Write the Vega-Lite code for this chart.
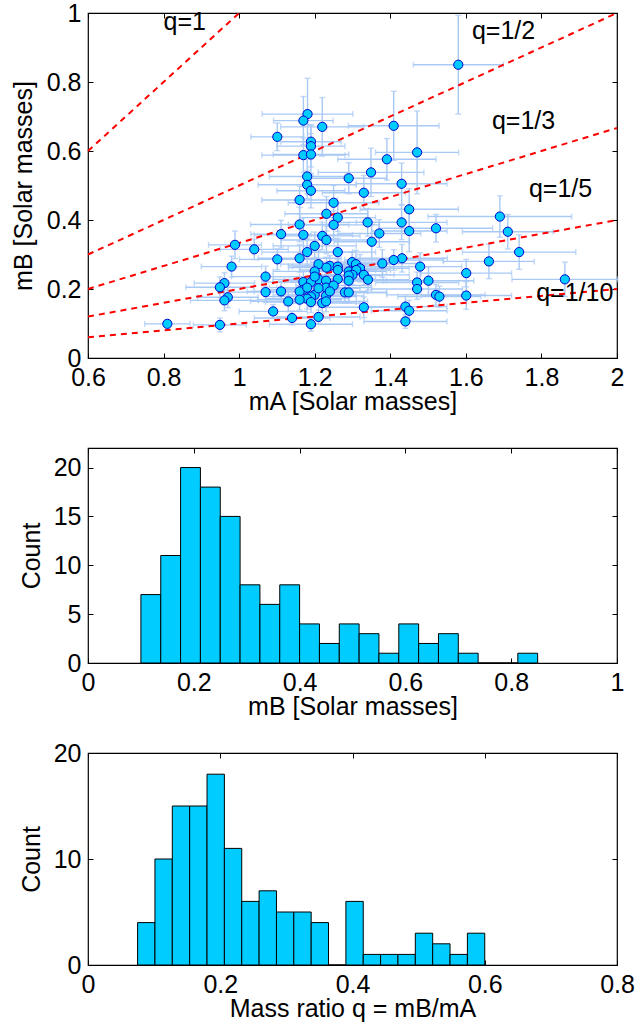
{
  "$schema": "https://vega.github.io/schema/vega-lite/v6.json",
  "background": "white",
  "padding": {"left": 10, "top": 0, "right": 5, "bottom": 5},
  "datasets": {
    "stars": [
      {"mA":1.580,"mB":0.850,"dA":0.119,"dB":0.143},
      {"mA":1.181,"mB":0.707,"dA":0.120,"dB":0.104},
      {"mA":1.170,"mB":0.688,"dA":0.079,"dB":0.070},
      {"mA":1.220,"mB":0.670,"dA":0.110,"dB":0.085},
      {"mA":1.101,"mB":0.641,"dA":0.070,"dB":0.040},
      {"mA":1.190,"mB":0.627,"dA":0.080,"dB":0.050},
      {"mA":1.190,"mB":0.614,"dA":0.090,"dB":0.060},
      {"mA":1.170,"mB":0.588,"dA":0.110,"dB":0.050},
      {"mA":1.190,"mB":0.590,"dA":0.100,"dB":0.060},
      {"mA":1.409,"mB":0.673,"dA":0.120,"dB":0.100},
      {"mA":1.471,"mB":0.596,"dA":0.110,"dB":0.120},
      {"mA":1.391,"mB":0.576,"dA":0.130,"dB":0.060},
      {"mA":1.349,"mB":0.538,"dA":0.140,"dB":0.070},
      {"mA":1.290,"mB":0.521,"dA":0.100,"dB":0.045},
      {"mA":1.180,"mB":0.526,"dA":0.100,"dB":0.050},
      {"mA":1.180,"mB":0.502,"dA":0.130,"dB":0.040},
      {"mA":1.430,"mB":0.505,"dA":0.120,"dB":0.060},
      {"mA":1.190,"mB":0.485,"dA":0.090,"dB":0.050},
      {"mA":1.330,"mB":0.479,"dA":0.110,"dB":0.050},
      {"mA":1.160,"mB":0.458,"dA":0.100,"dB":0.040},
      {"mA":1.250,"mB":0.450,"dA":0.120,"dB":0.050},
      {"mA":1.450,"mB":0.431,"dA":0.130,"dB":0.060},
      {"mA":1.231,"mB":0.418,"dA":0.110,"dB":0.050},
      {"mA":1.261,"mB":0.407,"dA":0.100,"dB":0.040},
      {"mA":1.250,"mB":0.386,"dA":0.120,"dB":0.040},
      {"mA":1.160,"mB":0.387,"dA":0.130,"dB":0.050},
      {"mA":1.340,"mB":0.393,"dA":0.100,"dB":0.040},
      {"mA":1.430,"mB":0.393,"dA":0.120,"dB":0.050},
      {"mA":1.450,"mB":0.368,"dA":0.100,"dB":0.060},
      {"mA":1.521,"mB":0.376,"dA":0.150,"dB":0.040},
      {"mA":1.690,"mB":0.410,"dA":0.190,"dB":0.060},
      {"mA":1.711,"mB":0.366,"dA":0.120,"dB":0.050},
      {"mA":1.371,"mB":0.361,"dA":0.110,"dB":0.040},
      {"mA":1.111,"mB":0.359,"dA":0.080,"dB":0.040},
      {"mA":1.170,"mB":0.357,"dA":0.130,"dB":0.050},
      {"mA":1.220,"mB":0.354,"dA":0.100,"dB":0.040},
      {"mA":1.231,"mB":0.342,"dA":0.120,"dB":0.040},
      {"mA":1.351,"mB":0.337,"dA":0.100,"dB":0.050},
      {"mA":0.989,"mB":0.328,"dA":0.070,"dB":0.040},
      {"mA":1.040,"mB":0.315,"dA":0.090,"dB":0.030},
      {"mA":1.200,"mB":0.325,"dA":0.110,"dB":0.040},
      {"mA":1.180,"mB":0.307,"dA":0.120,"dB":0.040},
      {"mA":1.261,"mB":0.307,"dA":0.100,"dB":0.040},
      {"mA":1.741,"mB":0.307,"dA":0.150,"dB":0.050},
      {"mA":1.101,"mB":0.286,"dA":0.100,"dB":0.030},
      {"mA":1.160,"mB":0.289,"dA":0.110,"dB":0.040},
      {"mA":1.431,"mB":0.289,"dA":0.120,"dB":0.040},
      {"mA":1.409,"mB":0.284,"dA":0.130,"dB":0.030},
      {"mA":1.379,"mB":0.274,"dA":0.100,"dB":0.040},
      {"mA":1.661,"mB":0.280,"dA":0.120,"dB":0.050},
      {"mA":1.299,"mB":0.278,"dA":0.110,"dB":0.030},
      {"mA":1.309,"mB":0.272,"dA":0.090,"dB":0.040},
      {"mA":1.210,"mB":0.272,"dA":0.100,"dB":0.040},
      {"mA":1.240,"mB":0.267,"dA":0.110,"dB":0.030},
      {"mA":1.261,"mB":0.265,"dA":0.120,"dB":0.040},
      {"mA":0.980,"mB":0.265,"dA":0.080,"dB":0.030},
      {"mA":1.479,"mB":0.265,"dA":0.110,"dB":0.040},
      {"mA":1.320,"mB":0.260,"dA":0.130,"dB":0.040},
      {"mA":1.290,"mB":0.251,"dA":0.100,"dB":0.030},
      {"mA":1.200,"mB":0.251,"dA":0.110,"dB":0.040},
      {"mA":1.310,"mB":0.255,"dA":0.090,"dB":0.030},
      {"mA":1.261,"mB":0.255,"dA":0.100,"dB":0.030},
      {"mA":1.601,"mB":0.246,"dA":0.120,"dB":0.040},
      {"mA":1.300,"mB":0.241,"dA":0.110,"dB":0.030},
      {"mA":1.330,"mB":0.241,"dA":0.120,"dB":0.030},
      {"mA":1.290,"mB":0.239,"dA":0.090,"dB":0.040},
      {"mA":1.341,"mB":0.227,"dA":0.110,"dB":0.030},
      {"mA":1.210,"mB":0.228,"dA":0.120,"dB":0.030},
      {"mA":1.261,"mB":0.229,"dA":0.100,"dB":0.040},
      {"mA":1.070,"mB":0.236,"dA":0.090,"dB":0.030},
      {"mA":1.230,"mB":0.224,"dA":0.110,"dB":0.030},
      {"mA":1.290,"mB":0.224,"dA":0.100,"dB":0.030},
      {"mA":1.501,"mB":0.224,"dA":0.120,"dB":0.040},
      {"mA":1.862,"mB":0.228,"dA":0.140,"dB":0.050},
      {"mA":1.170,"mB":0.220,"dA":0.110,"dB":0.030},
      {"mA":1.190,"mB":0.220,"dA":0.100,"dB":0.030},
      {"mA":1.471,"mB":0.219,"dA":0.110,"dB":0.030},
      {"mA":0.961,"mB":0.217,"dA":0.080,"dB":0.030},
      {"mA":0.949,"mB":0.205,"dA":0.090,"dB":0.030},
      {"mA":1.230,"mB":0.204,"dA":0.120,"dB":0.030},
      {"mA":1.250,"mB":0.210,"dA":0.100,"dB":0.030},
      {"mA":1.471,"mB":0.200,"dA":0.120,"dB":0.030},
      {"mA":1.170,"mB":0.198,"dA":0.110,"dB":0.030},
      {"mA":1.070,"mB":0.191,"dA":0.100,"dB":0.030},
      {"mA":1.111,"mB":0.193,"dA":0.090,"dB":0.030},
      {"mA":1.160,"mB":0.193,"dA":0.120,"dB":0.030},
      {"mA":1.280,"mB":0.190,"dA":0.110,"dB":0.030},
      {"mA":1.290,"mB":0.190,"dA":0.100,"dB":0.030},
      {"mA":1.200,"mB":0.183,"dA":0.110,"dB":0.030},
      {"mA":1.190,"mB":0.178,"dA":0.120,"dB":0.030},
      {"mA":1.521,"mB":0.183,"dA":0.130,"dB":0.030},
      {"mA":1.530,"mB":0.178,"dA":0.110,"dB":0.030},
      {"mA":1.601,"mB":0.181,"dA":0.120,"dB":0.040},
      {"mA":1.230,"mB":0.180,"dA":0.100,"dB":0.030},
      {"mA":1.180,"mB":0.172,"dA":0.110,"dB":0.030},
      {"mA":0.970,"mB":0.176,"dA":0.080,"dB":0.030},
      {"mA":0.961,"mB":0.167,"dA":0.090,"dB":0.030},
      {"mA":1.130,"mB":0.164,"dA":0.100,"dB":0.030},
      {"mA":1.160,"mB":0.169,"dA":0.110,"dB":0.030},
      {"mA":1.190,"mB":0.162,"dA":0.120,"dB":0.030},
      {"mA":1.220,"mB":0.159,"dA":0.100,"dB":0.030},
      {"mA":1.230,"mB":0.164,"dA":0.110,"dB":0.030},
      {"mA":1.330,"mB":0.147,"dA":0.120,"dB":0.030},
      {"mA":1.440,"mB":0.149,"dA":0.110,"dB":0.030},
      {"mA":1.090,"mB":0.135,"dA":0.090,"dB":0.020},
      {"mA":1.450,"mB":0.137,"dA":0.100,"dB":0.030},
      {"mA":1.140,"mB":0.116,"dA":0.100,"dB":0.020},
      {"mA":1.210,"mB":0.119,"dA":0.110,"dB":0.020},
      {"mA":0.810,"mB":0.099,"dA":0.060,"dB":0.010},
      {"mA":0.949,"mB":0.096,"dA":0.070,"dB":0.020},
      {"mA":1.190,"mB":0.098,"dA":0.110,"dB":0.020},
      {"mA":1.440,"mB":0.106,"dA":0.110,"dB":0.020},
      {"mA":1.180,"mB":0.204,"dA":0.100,"dB":0.030},
      {"mA":1.210,"mB":0.202,"dA":0.110,"dB":0.030},
      {"mA":1.240,"mB":0.193,"dA":0.100,"dB":0.030},
      {"mA":1.200,"mB":0.236,"dA":0.110,"dB":0.030},
      {"mA":1.231,"mB":0.262,"dA":0.100,"dB":0.030}
    ],
    "qlines": [
      {"q":"q=1","xa":0.6,"ya":0.6,"xb":1.0,"yb":1.0},
      {"q":"q=1/2","xa":0.6,"ya":0.3,"xb":2.0,"yb":1.0},
      {"q":"q=1/3","xa":0.6,"ya":0.2,"xb":2.0,"yb":0.6667},
      {"q":"q=1/5","xa":0.6,"ya":0.12,"xb":2.0,"yb":0.4},
      {"q":"q=1/10","xa":0.6,"ya":0.06,"xb":2.0,"yb":0.2}
    ],
    "qlabels": [
      {"q":"q=1","lx":0.80,"ly":0.975},
      {"q":"q=1/2","lx":1.616,"ly":0.948},
      {"q":"q=1/3","lx":1.669,"ly":0.687},
      {"q":"q=1/5","lx":1.767,"ly":0.49},
      {"q":"q=1/10","lx":1.786,"ly":0.188}
    ],
    "histB": [
      {"b0":0.1,"b1":0.1375,"n":7},
      {"b0":0.1375,"b1":0.175,"n":11},
      {"b0":0.175,"b1":0.2125,"n":20},
      {"b0":0.2125,"b1":0.25,"n":18},
      {"b0":0.25,"b1":0.2875,"n":15},
      {"b0":0.2875,"b1":0.325,"n":8},
      {"b0":0.325,"b1":0.3625,"n":6},
      {"b0":0.3625,"b1":0.4,"n":8},
      {"b0":0.4,"b1":0.4375,"n":4},
      {"b0":0.4375,"b1":0.475,"n":2},
      {"b0":0.475,"b1":0.5125,"n":4},
      {"b0":0.5125,"b1":0.55,"n":3},
      {"b0":0.55,"b1":0.5875,"n":1},
      {"b0":0.5875,"b1":0.625,"n":4},
      {"b0":0.625,"b1":0.6625,"n":2},
      {"b0":0.6625,"b1":0.7,"n":3},
      {"b0":0.7,"b1":0.7375,"n":1},
      {"b0":0.7375,"b1":0.775,"n":0},
      {"b0":0.775,"b1":0.8125,"n":0},
      {"b0":0.8125,"b1":0.85,"n":1}
    ],
    "histQ": [
      {"b0":0.075,"b1":0.10125,"n":4},
      {"b0":0.10125,"b1":0.1275,"n":10},
      {"b0":0.1275,"b1":0.15375,"n":15},
      {"b0":0.15375,"b1":0.18,"n":15},
      {"b0":0.18,"b1":0.20625,"n":18},
      {"b0":0.20625,"b1":0.2325,"n":11},
      {"b0":0.2325,"b1":0.25875,"n":6},
      {"b0":0.25875,"b1":0.285,"n":7},
      {"b0":0.285,"b1":0.31125,"n":5},
      {"b0":0.31125,"b1":0.3375,"n":5},
      {"b0":0.3375,"b1":0.36375,"n":4},
      {"b0":0.36375,"b1":0.39,"n":0},
      {"b0":0.39,"b1":0.41625,"n":6},
      {"b0":0.41625,"b1":0.4425,"n":1},
      {"b0":0.4425,"b1":0.46875,"n":1},
      {"b0":0.46875,"b1":0.495,"n":1},
      {"b0":0.495,"b1":0.52125,"n":3},
      {"b0":0.52125,"b1":0.5475,"n":2},
      {"b0":0.5475,"b1":0.57375,"n":1},
      {"b0":0.57375,"b1":0.6,"n":3}
    ]
  },
  "config": {
    "font": "Liberation Sans",
    "view": {"stroke": "black", "strokeWidth": 1.2},
    "axis": {
      "grid": false,
      "domain": false,
      "labelFontSize": 25,
      "titleFontSize": 25,
      "labelColor": "black",
      "titleColor": "black",
      "titleFontWeight": "normal",
      "tickColor": "black",
      "tickSize": -5,
      "labelPadding": 12,
      "labelFlush": false,
      "labelOverlap": false
    }
  },
  "vconcat": [
    {
      "width": 529,
      "height": 345,
      "resolve": {"axis": {"x": "independent", "y": "independent"}},
      "layer": [
        {
          "data": {"name": "stars"},
          "mark": {"type": "errorbar", "ticks": {"size": 6}, "color": "#a9c9f5", "thickness": 1.4},
          "encoding": {
            "x": {"field": "mA", "type": "quantitative", "title": "mA [Solar masses]", "scale": {"domain": [0.6, 2]},
                  "axis": {"values": [0.6,0.8,1,1.2,1.4,1.6,1.8,2], "format": "~g", "titlePadding": -1}},
            "xError": {"field": "dA"},
            "y": {"field": "mB", "type": "quantitative", "title": "mB [Solar masses]", "scale": {"domain": [0, 1]},
                  "axis": {"values": [0,0.2,0.4,0.6,0.8,1], "format": "~g", "titlePadding": 10}}
          }
        },
        {
          "data": {"name": "stars"},
          "mark": {"type": "errorbar", "ticks": {"size": 6}, "color": "#a9c9f5", "thickness": 1.4},
          "encoding": {
            "x": {"field": "mA", "type": "quantitative", "axis": null},
            "y": {"field": "mB", "type": "quantitative", "axis": null},
            "yError": {"field": "dB"}
          }
        },
        {
          "data": {"name": "qlines"},
          "mark": {"type": "rule", "color": "#ff0000", "strokeWidth": 2, "strokeDash": [6, 5]},
          "encoding": {
            "x": {"field": "xa", "type": "quantitative", "axis": null},
            "y": {"field": "ya", "type": "quantitative", "axis": null},
            "x2": {"field": "xb"},
            "y2": {"field": "yb"}
          }
        },
        {
          "data": {"name": "stars"},
          "mark": {"type": "point", "shape": "circle", "filled": true, "size": 85, "fill": "#00ccff", "stroke": "#0000cc", "strokeWidth": 1, "opacity": 1},
          "encoding": {
            "x": {"field": "mA", "type": "quantitative",
                  "axis": {"orient": "top", "values": [0.6,0.8,1,1.2,1.4,1.6,1.8,2], "labels": false, "title": null}},
            "y": {"field": "mB", "type": "quantitative",
                  "axis": {"orient": "right", "values": [0,0.2,0.4,0.6,0.8,1], "labels": false, "title": null}}
          }
        },
        {
          "data": {"name": "qlabels"},
          "mark": {"type": "text", "align": "left", "baseline": "middle", "fontSize": 25, "color": "black"},
          "encoding": {
            "x": {"field": "lx", "type": "quantitative", "axis": null},
            "y": {"field": "ly", "type": "quantitative", "axis": null},
            "text": {"field": "q"}
          }
        }
      ]
    },
    {
      "width": 529,
      "height": 215,
      "data": {"name": "histB"},
      "resolve": {"axis": {"x": "independent", "y": "independent"}},
      "layer": [
        {
          "mark": {"type": "bar", "fill": "#00ccff", "stroke": "black", "strokeWidth": 1},
          "encoding": {
            "x": {"field": "b0", "type": "quantitative", "title": "mB [Solar masses]", "scale": {"domain": [0, 1]},
                  "axis": {"values": [0,0.2,0.4,0.6,0.8,1], "format": "~g", "titlePadding": -1}},
            "x2": {"field": "b1"},
            "y": {"field": "n", "type": "quantitative", "title": "Count", "scale": {"domain": [0, 21]},
                  "axis": {"values": [0,5,10,15,20], "titlePadding": 9}},
            "y2": {"datum": 0}
          }
        },
        {
          "mark": {"type": "point", "opacity": 0},
          "encoding": {
            "x": {"field": "b0", "type": "quantitative",
                  "axis": {"orient": "top", "values": [0,0.2,0.4,0.6,0.8,1], "labels": false, "title": null}},
            "y": {"field": "n", "type": "quantitative",
                  "axis": {"orient": "right", "values": [0,5,10,15,20], "labels": false, "title": null}}
          }
        }
      ]
    },
    {
      "width": 529,
      "height": 212,
      "data": {"name": "histQ"},
      "resolve": {"axis": {"x": "independent", "y": "independent"}},
      "layer": [
        {
          "mark": {"type": "bar", "fill": "#00ccff", "stroke": "black", "strokeWidth": 1},
          "encoding": {
            "x": {"field": "b0", "type": "quantitative", "title": "Mass ratio q = mB/mA", "scale": {"domain": [0, 0.8]},
                  "axis": {"values": [0,0.2,0.4,0.6,0.8], "format": "~g", "titlePadding": -1}},
            "x2": {"field": "b1"},
            "y": {"field": "n", "type": "quantitative", "title": "Count", "scale": {"domain": [0, 20]},
                  "axis": {"values": [0,10,20], "titlePadding": 9}},
            "y2": {"datum": 0}
          }
        },
        {
          "mark": {"type": "point", "opacity": 0},
          "encoding": {
            "x": {"field": "b0", "type": "quantitative",
                  "axis": {"orient": "top", "values": [0,0.2,0.4,0.6,0.8], "labels": false, "title": null}},
            "y": {"field": "n", "type": "quantitative",
                  "axis": {"orient": "right", "values": [0,10,20], "labels": false, "title": null}}
          }
        }
      ]
    }
  ],
  "spacing": 90,
  "bounds": "flush"
}
